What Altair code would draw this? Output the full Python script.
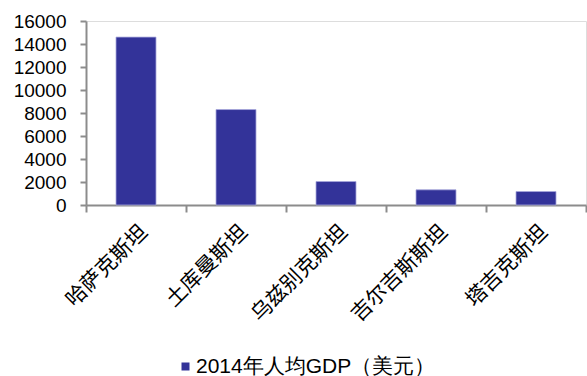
import altair as alt
import pandas as pd

countries = ["哈萨克斯坦", "土库曼斯坦", "乌兹别克斯坦", "吉尔吉斯斯坦", "塔吉克斯坦"]
gdp = [14600, 8300, 2040, 1320, 1170]
series_name = "2014年人均GDP（美元）"
y_ticks = [0, 2000, 4000, 6000, 8000, 10000, 12000, 14000, 16000]

df = pd.DataFrame({"country": countries, "gdp": gdp, "series": [series_name] * len(countries)})

AXIS_GRAY = "#8c8c8c"

chart = alt.Chart(df).mark_bar(
    width=alt.RelativeBandSize(0.4),
    stroke="#a8a8dc",
    strokeWidth=0.8,
).encode(
    x=alt.X(
        "country:N",
        sort=countries,
        title=None,
        scale=alt.Scale(paddingInner=0, paddingOuter=0),
        axis=alt.Axis(
            labelAngle=-45,
            labelFont="Noto Sans CJK SC",
            labelFontSize=21,
            labelColor="#000000",
            labelPadding=9,
            tickBand="extent",
            tickSize=7,
            tickWidth=2,
            tickColor=AXIS_GRAY,
            domainColor=AXIS_GRAY,
            domainWidth=2,
            grid=False,
        ),
    ),
    y=alt.Y(
        "gdp:Q",
        title=None,
        scale=alt.Scale(domain=[0, 16000], nice=False),
        axis=alt.Axis(
            values=y_ticks,
            format="d",
            labelFont="Liberation Sans",
            labelFontSize=19,
            labelColor="#000000",
            labelPadding=14,
            tickSize=6,
            tickWidth=2,
            tickColor=AXIS_GRAY,
            domainColor=AXIS_GRAY,
            domainWidth=2,
            grid=False,
        ),
    ),
    color=alt.Color(
        "series:N",
        scale=alt.Scale(range=["#333399"]),
        legend=alt.Legend(
            title=None,
            orient="none",
            legendX=89,
            legendY=335,
            symbolType="square",
            symbolSize=64,
            symbolStrokeWidth=0,
            labelFont="Liberation Sans",
            labelFontSize=21,
            labelColor="#000000",
            labelOffset=0,
            labelLimit=0,
            padding=0,
        ),
    ),
).properties(
    width=500,
    height=184,
    autosize=alt.AutoSizeParams(type="none"),
    padding={"left": 86, "top": 21, "right": 1, "bottom": 171},
).configure_view(stroke=None).configure(background="#ffffff")

chart.save("out.html", embed_options={"renderer": "svg", "actions": False})
